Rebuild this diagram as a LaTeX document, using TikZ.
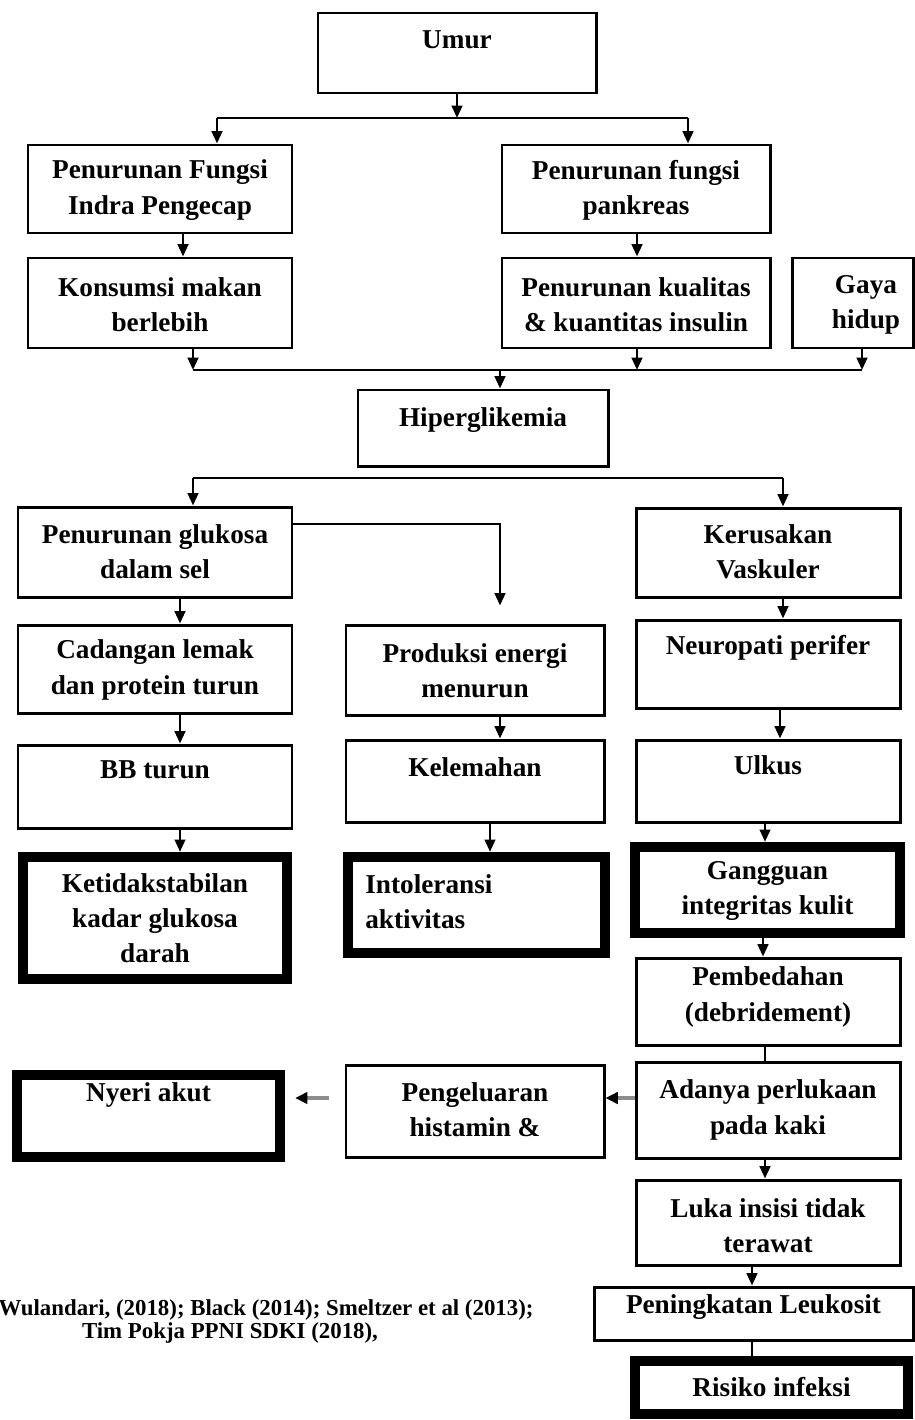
\documentclass[tikz,border=0pt]{standalone}
\usepackage{fontspec}
\setmainfont{Liberation Serif}
\usetikzlibrary{arrows.meta,calc}
\newcommand\bx[8]{%
  \node[#6, minimum width={(#4-#2)*0.02cm}, minimum height={(#5-#3)*0.02cm}] (#1) at ({(#2+#4)/2},{(#3+#5)/2}) {};
  \node[txt] (#1-t) at ({(#2+#4)/2},#7) {#8};}
\begin{document}
\begin{tikzpicture}[x=0.02cm,y=-0.02cm,
  box/.style={draw, line width=1.7pt, rectangle, inner sep=0pt},
  tbox/.style={draw, line width=5.9pt, rectangle, inner sep=0pt},
  txt/.style={font=\bfseries\fontsize{15.5}{20}\selectfont, align=center, inner sep=0pt},
  ln/.style={line width=1.4pt},
  tln/.style={line width=0.9pt},
  arr/.style={line width=1.4pt, -{Triangle[length=7pt,width=6pt]}},
  garr/.style={line width=2pt, draw=black!45, -{Triangle[length=7pt,width=6.5pt,color=black]}},
  cite/.style={font=\bfseries\fontsize{13}{14}\selectfont, inner sep=0pt}
]
\useasboundingbox[fill=white] (0,0) rectangle (915,1420);

\bx{umur}{318}{13}{596}{93}{box}{40}{Umur}
\bx{pfi}{28}{145}{292}{233}{box}{190}{Penurunan Fungsi\\Indra Pengecap}
\bx{pfp}{502}{145}{770}{233}{box}{190}{Penurunan fungsi\\pankreas}
\bx{kons}{28}{258}{292}{348}{box}{305}{Konsumsi makan\\berlebih}
\bx{pkk}{502}{258}{770}{348}{box}{305}{Penurunan kualitas\\\& kuantitas insulin}
\node[box, minimum width={121*0.02cm}, minimum height={90*0.02cm}] (gaya) at (852.5,303) {};
\node[txt] (gaya-t) at (866,305) {Gaya\\hidup};
\bx{hiper}{358}{390}{608}{466}{box}{420}{Hiperglikemia}
\bx{pgs}{18}{507}{292}{597}{box}{552}{Penurunan glukosa\\dalam sel}
\bx{kv}{636}{508}{900}{597}{box}{552}{Kerusakan\\Vaskuler}
\bx{cad}{18}{625}{292}{713}{box}{670}{Cadangan lemak\\dan protein turun}
\bx{pen}{346}{625}{604}{715}{box}{671}{Produksi energi\\menurun}
\bx{neu}{636}{620}{900}{708}{box}{648}{Neuropati perifer}
\bx{bb}{18}{745}{292}{828}{box}{770}{BB turun}
\bx{kel}{346}{740}{604}{822}{box}{767}{Kelemahan}
\bx{ulk}{636}{740}{900}{822}{box}{765}{Ulkus}
\bx{ket}{23}{857}{287}{979}{tbox}{918}{Ketidakstabilan\\kadar glukosa\\darah}
\node[tbox, minimum width={257*0.02cm}, minimum height={96*0.02cm}] (into) at (476.5,905) {};
\node[txt, align=left, anchor=west] (into-t) at (365,902) {Intoleransi\\aktivitas};
\bx{gang}{635}{847}{900}{933}{tbox}{891}{Gangguan\\integritas kulit}
\bx{pemb}{636}{958}{900}{1045}{box}{997}{Pembedahan\\(debridement)}
\bx{ada}{636}{1062}{900}{1158}{box}{1110}{Adanya perlukaan\\pada kaki}
\bx{peng}{346}{1065}{604}{1157}{box}{1110}{Pengeluaran\\histamin \&}
\bx{nyeri}{17}{1075}{280}{1157}{tbox}{1095}{Nyeri akut}
\bx{luka}{636}{1180}{900}{1265}{box}{1226}{Luka insisi tidak\\terawat}
\bx{leuk}{594}{1287}{913}{1340}{box}{1307}{Peningkatan Leukosit}
\bx{risk}{635}{1361}{908}{1414}{tbox}{1387}{Risiko infeksi}

\node[cite] (c1) at (266,1310) {Wulandari, (2018); Black (2014); Smeltzer et al (2013);};
\node[cite] (c2) at (230,1333) {Tim Pokja PPNI SDKI (2018),};

% connectors
\coordinate (j0) at (457,118);
\coordinate (jl) at (217,118);
\coordinate (jr) at (688,118);
\draw[arr] (umur.south) -- (j0);
\draw[ln] (jl) -- (jr);
\draw[arr] (jl) -- (pfi.north -| jl);
\draw[arr] (jr) -- (pfp.north -| jr);
\draw[arr] (pfi.south -| 183,0) -- (kons.north -| 183,0);
\draw[arr] (pfp.south -| 637,0) -- (pkk.north -| 637,0);

\coordinate (m1) at (193,370);
\coordinate (m2) at (862,370);
\coordinate (m3) at (637,370);
\coordinate (m0) at (500,370);
\draw[arr] (kons.south -| m1) -- (m1);
\draw[arr] (pkk.south -| m3) -- (m3);
\draw[arr] (gaya.south -| m2) -- (m2);
\draw[ln] (m1) -- (m2);
\draw[arr] (m0) -- (hiper.north -| m0);

\coordinate (h1) at (193,478);
\coordinate (h2) at (783,478);
\draw[ln] (h1) -- (h2);
\draw[arr] (h1) -- (pgs.north -| h1);
\draw[arr] (h2) -- (kv.north -| h2);

\draw[arr] (pgs.east |- 0,524) -| ($(pen.north -| 500,0)+(0,-18)$);
\draw[arr] (pgs.south -| 180,0) -- (cad.north -| 180,0);
\draw[arr] (kv.south -| 783,0) -- (neu.north -| 783,0);
\draw[arr] (cad.south -| 180,0) -- (bb.north -| 180,0);
\draw[arr] (pen.south -| 500,0) -- (kel.north -| 500,0);
\draw[arr] (neu.south -| 780,0) -- (ulk.north -| 780,0);
\draw[arr] (bb.south -| 180,0) -- (ket.north -| 180,0);
\draw[arr] (kel.south -| 490,0) -- (into.north -| 490,0);
\draw[arr] (ulk.south -| 765,0) -- (gang.north -| 765,0);
\draw[arr] (gang.south -| 763,0) -- (pemb.north -| 763,0);
\draw[tln] (pemb.south -| 765,0) -- (ada.north -| 765,0);
\draw[garr] (ada.west |- 0,1098) -- (peng.east |- 0,1098);
\draw[garr] ($(peng.west |- 0,1098)+(-16,0)$) -- ($(nyeri.east |- 0,1098)+(10,0)$);
\draw[arr] (ada.south -| 765,0) -- (luka.north -| 765,0);
\draw[arr] (luka.south -| 752,0) -- (leuk.north -| 752,0);
\draw[tln] (leuk.south -| 752,0) -- (risk.north -| 752,0);
\end{tikzpicture}
\end{document}
